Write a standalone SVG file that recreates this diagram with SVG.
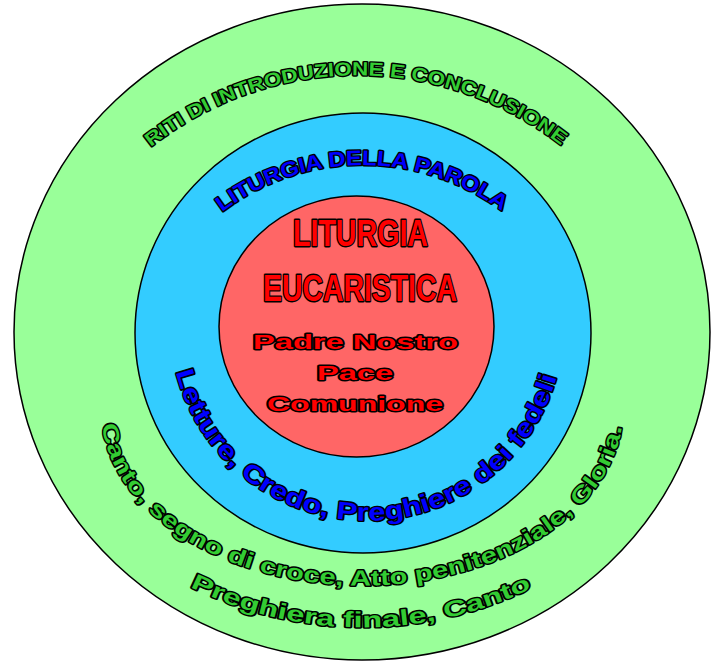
<svg xmlns="http://www.w3.org/2000/svg" width="712" height="661" viewBox="0 0 712 661">
<style>
.ring{stroke:#000;stroke-width:1.5}
.t{font-family:"Liberation Sans",Arial,sans-serif;font-weight:bold;stroke:#000;stroke-width:2.8;stroke-linejoin:round;paint-order:stroke}
.g{fill:#33cc33}
.b{fill:#0000ff}
.r{fill:#ff0000}
</style>
<defs>
<path id="pRiti" d="M151,147 A332,332 0 0 1 563,147"/>
<path id="pParola" d="M222,212 A233.5,233.5 0 0 1 503,212"/>
<path id="pLetture" d="M176,372 A197,197 0 0 0 558,372"/>
<path id="pCanto" d="M102,425 A261,176 0 0 0 622,425"/>
<path id="pPreghiera" d="M190,587 A387,387 0 0 0 534,587"/>
</defs>
<rect width="712" height="661" fill="#fff"/>
<g id="riti">
<ellipse class="ring" cx="362" cy="332" rx="348" ry="328" fill="#99ff99"/>
<text class="t g" font-size="19"><textPath href="#pRiti" textLength="442" lengthAdjust="spacingAndGlyphs">RITI DI INTRODUZIONE E CONCLUSIONE</textPath></text>
<text class="t g" font-size="22"><textPath href="#pCanto" textLength="660" lengthAdjust="spacingAndGlyphs">Canto, segno di croce, Atto penitenziale, Gloria.</textPath></text>
<text class="t g" font-size="22"><textPath href="#pPreghiera" textLength="354" lengthAdjust="spacingAndGlyphs">Preghiera finale, Canto</textPath></text>
</g>
<g id="parola">
<ellipse class="ring" cx="363" cy="333" rx="228" ry="220" fill="#33ccff"/>
<text class="t b" font-size="21"><textPath href="#pParola" textLength="300" lengthAdjust="spacingAndGlyphs">LITURGIA DELLA PAROLA</textPath></text>
<text class="t b" font-size="25"><textPath href="#pLetture" textLength="516" lengthAdjust="spacingAndGlyphs">Letture, Credo, Preghiere dei fedeli</textPath></text>
</g>
<g id="eucaristia">
<ellipse class="ring" cx="356.5" cy="326.5" rx="137.5" ry="130.5" fill="#ff6666"/>
<g class="t r" text-anchor="middle">
<text x="360.5" y="246" font-size="36" textLength="135" lengthAdjust="spacingAndGlyphs">LITURGIA</text>
<text x="360" y="301" font-size="36" textLength="194" lengthAdjust="spacingAndGlyphs">EUCARISTICA</text>
<text x="355.5" y="349" font-size="21" textLength="205" lengthAdjust="spacingAndGlyphs">Padre Nostro</text>
<text x="355" y="380" font-size="21" textLength="76" lengthAdjust="spacingAndGlyphs">Pace</text>
<text x="355" y="411" font-size="21" textLength="176" lengthAdjust="spacingAndGlyphs">Comunione</text>
</g>
</g>
</svg>
